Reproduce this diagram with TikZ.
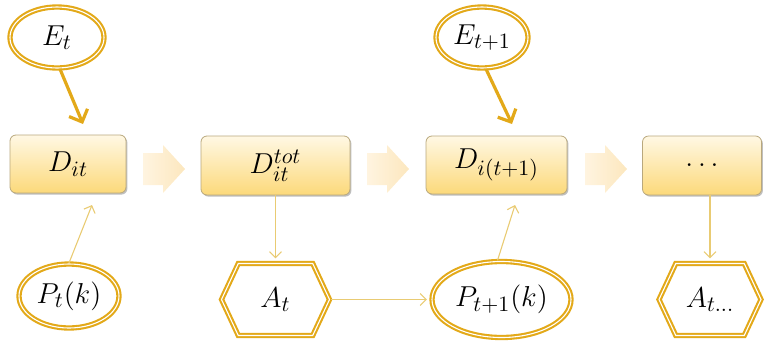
\documentclass[tikz,border=0pt]{standalone}
\usetikzlibrary{shapes.geometric,shapes.symbols,shadows,arrows.meta,calc}
\definecolor{gold}{RGB}{227,169,25}
\definecolor{thin}{RGB}{233,203,115}
\definecolor{boxtop}{RGB}{255,248,228}
\definecolor{boxbot}{RGB}{252,217,122}
\definecolor{boxline}{RGB}{185,168,125}
\definecolor{arrleft}{RGB}{255,244,224}
\definecolor{arrright}{RGB}{252,231,190}
\tikzset{
  dbox/.style={rectangle, rounded corners=3pt, draw=boxline, line width=0.4pt,
    top color=boxtop, bottom color=boxbot, inner sep=0pt,
    drop shadow={shadow xshift=0.7pt, shadow yshift=-0.8pt, fill=black, opacity=0.25}},
  oval/.style={ellipse, draw=gold, line width=1.05pt, double=white, double distance=0.55pt, inner sep=0pt},
  hexa/.style={signal, signal to=east and west, signal pointer angle=130, draw=gold,
    line width=1.05pt, double=white, double distance=0.55pt, inner sep=0pt},
  blockarr/.style={left color=arrleft, right color=arrright},
  bigcon/.style={draw=gold, line width=1.6pt, -{Straight Barb[length=5pt,width=10pt,line width=1.6pt]}},
  thincon/.style={draw=thin, line width=0.55pt, -{Straight Barb[length=3pt,width=6pt,line width=0.55pt]}}
}
\begin{document}
\begin{tikzpicture}[x=0.5pt,y=-0.5pt, font=\fontsize{15}{17}\selectfont]
\useasboundingbox (0,0) rectangle (764,343);
% boxes
\node[dbox, minimum width=58pt, minimum height=29pt] (Dit) at (68,164) {$D_{it}$};
\node[dbox, minimum width=74.5pt, minimum height=29.5pt] (Dtot) at (275.5,165.5) {$D_{it}^{tot}$};
\node[dbox, minimum width=70.5pt, minimum height=29pt] (Dit1) at (496.5,165) {$D_{i(t+1)}$};
\node[dbox, minimum width=59.5pt, minimum height=29.5pt] (Ddots) at (702,165.5) {$\dots$};
% block arrows
\foreach \cx in {164,388,606}{
  \shade[blockarr, shift={(\cx,169)}]
    (-21,-16) -- (-1,-16) -- (-1,-24) -- (21,0) -- (-1,24) -- (-1,16) -- (-21,16) -- cycle;
}
% ellipses
\node[oval, minimum width=47pt, minimum height=30.5pt] (Et) at (57,37.5) {$E_t$};
\node[oval, minimum width=46pt, minimum height=30.5pt] (Et1) at (482,37.5) {$E_{t+1}$};
\node[oval, minimum width=50pt, minimum height=32pt] (Pt) at (69,296) {$P_t(k)$};
\node[oval, minimum width=69.5pt, minimum height=38pt] (Pt1) at (501.5,299.5) {$P_{t+1}(k)$};
% hexagons
\node[hexa, minimum width=54pt, minimum height=36pt] (At) at (275.5,299.5) {$A_t$};
\node[hexa, minimum width=51pt, minimum height=36pt] (Atd) at (710,299.5) {$A_{t\dots}$};
% free ends
\coordinate (e1) at (83,124);
\coordinate (e2) at (512,124);
\coordinate (p1) at (92,205);
\coordinate (p2) at (515,205);
% connectors
\draw[bigcon] (Et.south) ++(3,0) coordinate (es1) (es1) -- (e1);
\draw[bigcon] (Et1.south) ++(4,0) coordinate (es2) (es2) -- (e2);
\draw[thincon] (Pt.north) -- (p1);
\draw[thincon] (Pt1.north) ++(-4,0) coordinate (ps2) (ps2) -- (p2);
\draw[thincon, shorten >=2pt] (Dtot.south) -- (At.north);
\draw[thincon, shorten >=2pt] (At.east) -- (Pt1.west);
\draw[thincon, shorten >=2pt] (Ddots.south -| Atd.north) -- (Atd.north);
\end{tikzpicture}
\end{document}
